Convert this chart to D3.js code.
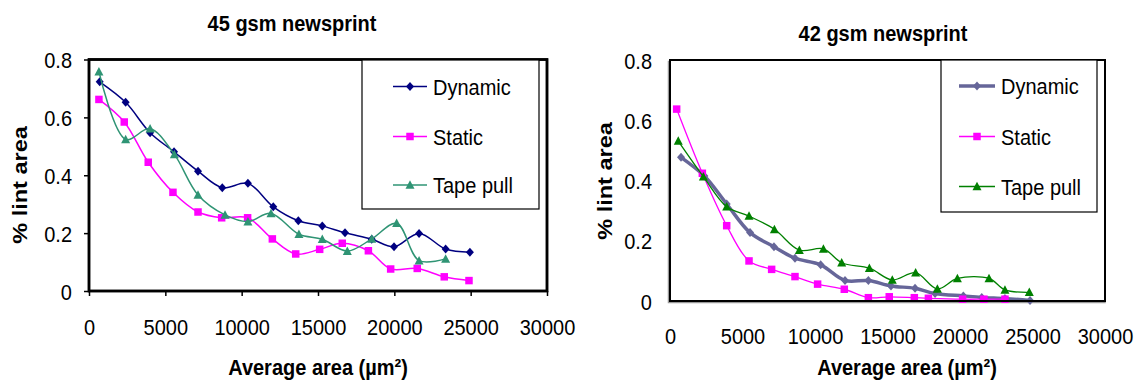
<!DOCTYPE html>
<html>
<head>
<meta charset="utf-8">
<script src="https://cdnjs.cloudflare.com/ajax/libs/d3/7.8.5/d3.min.js"></script>
<style>
  body { margin: 0; background: #fff; }
  svg { display: block; }
</style>
</head>
<body>
<svg id="chart" width="1138" height="381"></svg>
<script>
'use strict';

// axis ticks (shared by both panels)
var xTicks = [0, 5000, 10000, 15000, 20000, 25000, 30000];
var yTicks = [0, 0.2, 0.4, 0.6, 0.8];
var seriesNames = ['Dynamic', 'Static', 'Tape pull'];

// 45 gsm newsprint: [average area (um2), % lint area]
var dyn45 = [[700,0.723],[2400,0.652],[4000,0.547],[5570,0.481],[7140,0.414],[8730,0.357],[10410,0.372],[12070,0.291],
  [13710,0.243],[15280,0.225],[16770,0.201],[18520,0.179],[19980,0.153],[21620,0.199],[23360,0.145],[24950,0.134]];
var stat45 = [[650,0.662],[2310,0.584],[3880,0.445],[5500,0.341],[7140,0.273],[8690,0.253],[10390,0.253],[12010,0.180],
  [13540,0.128],[15110,0.144],[16590,0.165],[18300,0.139],[19760,0.076],[21500,0.078],[23270,0.049],[24890,0.036]];
var tape45 = [[650,0.758],[2400,0.524],[4000,0.561],[5590,0.472],[7140,0.332],[8910,0.263],[10410,0.240],[11920,0.268],
  [13750,0.196],[15280,0.179],[16920,0.138],[18520,0.180],[20150,0.234],[21620,0.105],[23360,0.111]];

// 42 gsm newsprint
var dyn42 = [[760,0.477],[2370,0.415],[3910,0.322],[5520,0.227],[7170,0.180],[8620,0.142],[10390,0.120],[12070,0.068],
  [13680,0.068],[15240,0.050],[16900,0.042],[18280,0.025],[20230,0.017],[21500,0.012],[23100,0.008],[24830,0.002]];
var stat42 = [[460,0.637],[2230,0.424],[3910,0.250],[5450,0.133],[7010,0.105],[8620,0.081],[10180,0.056],[12020,0.039],
  [13680,0.011],[15120,0.014],[16850,0.011],[17820,0.009],[20180,0.006],[21650,0.006],[23100,0.006]];
var tape42 = [[570,0.531],[2300,0.413],[3910,0.313],[5450,0.282],[7200,0.238],[8920,0.169],[10580,0.173],[11840,0.127],
  [13750,0.109],[15330,0.070],[16940,0.094],[18440,0.040],[19820,0.075],[22000,0.075],[23100,0.037],[24780,0.029]];

var FONT = "Arial, 'Liberation Sans', sans-serif";
var SY = 1.12;   // the original picture is stretched a bit vertically

var svg = d3.select('#chart');

// marker shapes
function diamond(w, h) { return 'M0,' + (-h / 2) + 'L' + (w / 2) + ',0L0,' + (h / 2) + 'L' + (-w / 2) + ',0Z'; }
function square(s) { return 'M' + (-s / 2) + ',' + (-s / 2) + 'h' + s + 'v' + s + 'h' + (-s) + 'Z'; }
function triangle(w, h) { return 'M0,' + (-h * 0.55) + 'L' + (w / 2) + ',' + (h * 0.45) + 'L' + (-w / 2) + ',' + (h * 0.45) + 'Z'; }

function label(g, x, y, str, opts) {
  opts = opts || {};
  var t = g.append('text')
    .attr('transform', 'translate(' + x + ',' + y + ')' + (opts.rotate ? ' rotate(-90) scale(' + SY + ',1)' : ' scale(1,' + SY + ')'))
    .attr('dy', '0.358em')
    .attr('text-anchor', opts.anchor || 'middle')
    .attr('font-family', FONT)
    .attr('font-size', opts.size || 20)
    .attr('font-weight', opts.bold ? 'bold' : 'normal')
    .attr('fill', '#000')
    .text(str);
  return t;
}

function drawPanel(cfg) {
  var g = svg.append('g');

  var x = d3.scaleLinear().domain([0, 30000]).range([cfg.left, cfg.right]);
  var y = d3.scaleLinear().domain([0, 0.8]).range([cfg.bottom, cfg.top]);

  // plot frame
  if (cfg.shadow) {
    g.append('rect')
      .attr('x', cfg.left - 1.5).attr('y', cfg.top + 1.5)
      .attr('width', cfg.right - cfg.left + 1.5).attr('height', cfg.bottom - cfg.top)
      .attr('fill', 'none').attr('stroke', '#9a9a9a').attr('stroke-width', 1.5);
  }
  g.append('rect')
    .attr('x', cfg.left).attr('y', cfg.top)
    .attr('width', cfg.right - cfg.left).attr('height', cfg.bottom - cfg.top)
    .attr('fill', '#fff').attr('stroke', '#000').attr('stroke-width', cfg.frameWidth);

  // axes
  var xAxis = g.append('g')
    .attr('transform', 'translate(0,' + cfg.bottom + ')')
    .call(d3.axisBottom(x).tickValues(xTicks).tickSize(cfg.tickSize).tickFormat(function(d) { return String(d); }));
  var yAxis = g.append('g')
    .attr('transform', 'translate(' + cfg.left + ',0)')
    .call(d3.axisLeft(y).tickValues(yTicks).tickSize(cfg.tickSize).tickFormat(function(d) { return d === 0 ? '0' : d3.format('.1f')(d); }));

  [xAxis, yAxis].forEach(function(a) {
    a.select('.domain').remove();
    a.attr('font-family', FONT).attr('font-size', 20);
    a.selectAll('line').attr('stroke', '#000').attr('stroke-width', 1.5);
    a.selectAll('text').attr('fill', '#000');
  });
  xAxis.selectAll('text')
    .attr('y', null).attr('dy', '0.358em')
    .attr('transform', 'translate(0,' + cfg.xLabOff + ') scale(1,' + SY + ')');
  yAxis.selectAll('text')
    .attr('x', null).attr('dy', '0.358em')
    .attr('transform', 'translate(' + (-cfg.yLabOff) + ',0) scale(1,' + SY + ')');

  // series
  var line = d3.line()
    .x(function(d) { return x(d[0]); })
    .y(function(d) { return y(d[1]); })
    .curve(d3.curveCatmullRom.alpha(0.5));

  cfg.series.forEach(function(s) {
    g.append('path')
      .datum(s.data)
      .attr('d', line)
      .attr('fill', 'none')
      .attr('stroke', s.color)
      .attr('stroke-width', s.width)
      .attr('stroke-linejoin', 'round');
    g.selectAll(null)
      .data(s.data)
      .enter().append('path')
      .attr('transform', function(d) { return 'translate(' + x(d[0]) + ',' + y(d[1]) + ')'; })
      .attr('d', s.marker)
      .attr('fill', s.color);
  });

  // redraw the frame edges over the markers
  g.append('rect')
    .attr('x', cfg.left).attr('y', cfg.top)
    .attr('width', cfg.right - cfg.left).attr('height', cfg.bottom - cfg.top)
    .attr('fill', 'none').attr('stroke', '#000').attr('stroke-width', cfg.frameWidth);

  // legend
  var L = cfg.legend;
  g.append('rect')
    .attr('x', L.x0).attr('y', L.y0)
    .attr('width', L.x1 - L.x0).attr('height', L.y1 - L.y0)
    .attr('fill', '#fff').attr('stroke', '#000').attr('stroke-width', 1.2);
  cfg.series.forEach(function(s, i) {
    var ry = L.rows[i];
    g.append('line')
      .attr('x1', L.lx0).attr('x2', L.lx1).attr('y1', ry).attr('y2', ry)
      .attr('stroke', s.color).attr('stroke-width', s.width);
    g.append('path')
      .attr('transform', 'translate(' + ((L.lx0 + L.lx1) / 2) + ',' + ry + ')')
      .attr('d', s.marker).attr('fill', s.color);
    label(g, L.tx, ry, seriesNames[i], { anchor: 'start' });
  });

  // titles
  label(g, cfg.titleX, cfg.titleY, cfg.title, { bold: true });
  label(g, cfg.xTitleX, cfg.xTitleY, 'Average area (\u00b5m\u00b2)', { bold: true });
  label(g, cfg.yTitleX, cfg.yTitleY, '% lint area', { bold: true, rotate: true, size: 21 });
}

drawPanel({
  title: '45 gsm newsprint', titleX: 292, titleY: 23,
  xTitleX: 318, xTitleY: 367, yTitleX: 19, yTitleY: 185,
  left: 89, right: 547, top: 59.5, bottom: 291,
  frameWidth: 2.5, shadow: false, tickSize: 5, xLabOff: 36, yLabOff: 17,
  legend: { x0: 362, x1: 539, y0: 60, y1: 209, rows: [86.5, 136.5, 185], lx0: 393, lx1: 427, tx: 433 },
  series: [
    { data: dyn45, color: '#000080', width: 1.5, marker: diamond(8, 9) },
    { data: stat45, color: '#ff00ff', width: 1.5, marker: square(7.5) },
    { data: tape45, color: '#2f9474', width: 1.5, marker: triangle(9, 8.5) }
  ]
});

drawPanel({
  title: '42 gsm newsprint', titleX: 883, titleY: 33,
  xTitleX: 907, xTitleY: 367, yTitleX: 604, yTitleY: 181,
  left: 670, right: 1105, top: 60, bottom: 301,
  frameWidth: 2, shadow: true, tickSize: 0, xLabOff: 35, yLabOff: 18,
  legend: { x0: 941, x1: 1097, y0: 60, y1: 212, rows: [86, 136.5, 186.5], lx0: 959, lx1: 995, tx: 1001 },
  series: [
    { data: dyn42, color: '#666699', width: 3.5, marker: diamond(8, 9) },
    { data: stat42, color: '#ff00ff', width: 1.3, marker: square(7.5) },
    { data: tape42, color: '#008000', width: 1.3, marker: triangle(9, 8.5) }
  ]
});
</script>
</body>
</html>
